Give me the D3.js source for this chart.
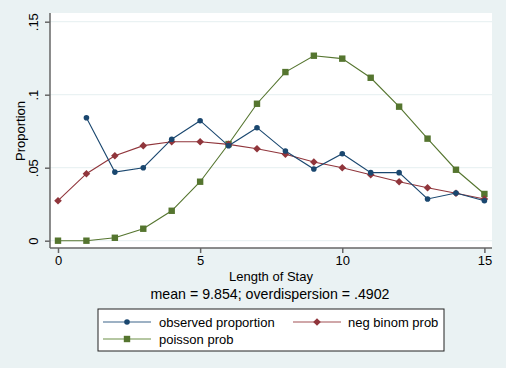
<!DOCTYPE html>
<html><head><meta charset="utf-8">
<script src="https://cdn.jsdelivr.net/npm/d3@7"></script>
<style>html,body{margin:0;padding:0;background:#EAF2F3;}svg{display:block;font-family:"Liberation Sans",Arial,sans-serif;}</style>
</head><body>
<svg id="c" width="506" height="368"></svg>
<script>
const obsX = [1,2,3,4,5,6,7,8,9,10,11,12,13,14,15];
const observed = [0.0842,0.047,0.050,0.0695,0.0822,0.065,0.0774,0.0614,0.0491,0.0596,0.0466,0.0466,0.0286,0.0327,0.0274];
const probX = [0,1,2,3,4,5,6,7,8,9,10,11,12,13,14,15];
const negBinom = [0.0274,0.0459,0.0582,0.0651,0.0678,0.0678,0.066,0.063,0.0592,0.0539,0.050,0.0452,0.0404,0.0363,0.0325,0.0286];
const poisson = [0,0,0.002,0.0082,0.0205,0.0404,0.0662,0.0938,0.1155,0.1267,0.1247,0.1116,0.0918,0.0699,0.0486,0.032];
const xTicks = [0,5,10,15];
const yTicks = [0,0.05,0.1,0.15];
const yTickLabels = ["0",".05",".1",".15"];
const xTitle = "Length of Stay";
const yTitle = "Proportion";
const note = "mean = 9.854; overdispersion = .4902";
const legendLabels = ["observed proportion","neg binom prob","poisson prob"];

const C = {blue:"#1a476f", red:"#90353b", green:"#55752f"};
const svg = d3.select("#c");
const x = d3.scaleLinear().domain([0,15]).range([58,484.4]);
const y = d3.scaleLinear().domain([0,0.15]).range([240.7,21.7]);

// plot region
svg.append("rect").attr("x",50).attr("y",13).attr("width",442).attr("height",235).attr("fill","#fff");
// gridlines
svg.append("g").selectAll("line").data(yTicks).join("line")
  .attr("x1",50).attr("x2",492).attr("y1",d=>y(d)).attr("y2",d=>y(d))
  .attr("stroke","#EAF2F3").attr("stroke-width",1.2);

// axes
const yAxis = svg.append("g").attr("transform","translate(50,0)")
  .call(d3.axisLeft(y).tickValues(yTicks).tickSize(5).tickPadding(9).tickFormat((d,i)=>yTickLabels[i]));
const xAxis = svg.append("g").attr("transform","translate(0,248)")
  .call(d3.axisBottom(x).tickValues(xTicks).tickSize(5).tickPadding(3).tickFormat(d3.format("d")));
[yAxis,xAxis].forEach(g=>{
  g.select(".domain").attr("stroke","#666").attr("stroke-width",1.5);
  g.selectAll(".tick line").attr("stroke","#666").attr("stroke-width",1.5);
  g.selectAll("text").attr("fill","#000").style("font-size","13px").style("font-family","'Liberation Sans',Arial,sans-serif");
});
yAxis.select(".domain").attr("d","M0,13V248");
xAxis.select(".domain").attr("d","M50,0H492");
yAxis.selectAll(".tick text").attr("text-anchor","middle")
  .attr("x",0).attr("y",0).attr("dy","0.35em")
  .attr("transform","translate(-17,0) rotate(-90)");

// titles
svg.append("text").attr("transform","translate(20,131) rotate(-90)").attr("text-anchor","middle")
  .attr("dy","0.35em").style("font-size","13px").text(yTitle);
svg.append("text").attr("x",271).attr("y",276).attr("text-anchor","middle").attr("dy","0.35em")
  .style("font-size","13px").text(xTitle);
svg.append("text").attr("x",270).attr("y",294).attr("text-anchor","middle").attr("dy","0.35em")
  .style("font-size","14.2px").text(note);

// series
const line = d3.line().x(d=>x(d[0])).y(d=>y(d[1]));
const obsData = obsX.map((v,i)=>[v,observed[i]]);
const nbData = probX.map((v,i)=>[v,negBinom[i]]);
const poData = probX.map((v,i)=>[v,poisson[i]]);

function drawSeries(data,color,shape){
  svg.append("path").datum(data).attr("d",line).attr("fill","none").attr("stroke",color).attr("stroke-width",1.1);
  const g=svg.append("g");
  data.forEach(d=>drawMarker(g,x(d[0]),y(d[1]),color,shape));
}
function drawMarker(g,cx,cy,color,shape){
  if(shape==="circle") g.append("circle").attr("cx",cx).attr("cy",cy).attr("r",2.8).attr("fill",color);
  else if(shape==="diamond") g.append("path").attr("d",`M${cx},${cy-3.8}L${cx+3.8},${cy}L${cx},${cy+3.8}L${cx-3.8},${cy}Z`).attr("fill",color);
  else g.append("rect").attr("x",cx-3.2).attr("y",cy-3.2).attr("width",6.4).attr("height",6.4).attr("fill",color);
}
drawSeries(poData,C.green,"square");
drawSeries(nbData,C.red,"diamond");
drawSeries(obsData,C.blue,"circle");

// legend
svg.append("rect").attr("x",98).attr("y",309).attr("width",346).attr("height",42)
  .attr("fill","#fff").attr("stroke","#222").attr("stroke-width",1);
const leg = [
  {lab:legendLabels[0],c:C.blue,lc:"#7c97b1",s:"circle",x1:103,x2:151,tx:159,yy:322},
  {lab:legendLabels[1],c:C.red,lc:"#c08a8d",s:"diamond",x1:293,x2:341,tx:348,yy:322},
  {lab:legendLabels[2],c:C.green,lc:"#9db483",s:"square",x1:103,x2:151,tx:159,yy:339}
];
leg.forEach(l=>{
  svg.append("line").attr("x1",l.x1).attr("x2",l.x2).attr("y1",l.yy).attr("y2",l.yy).attr("stroke",l.lc).attr("stroke-width",1.5);
  const g=svg.append("g");
  drawMarker(g,(l.x1+l.x2)/2,l.yy,l.c,l.s);
  svg.append("text").attr("x",l.tx).attr("y",l.yy).attr("dy","0.35em").style("font-size","13px").text(l.lab);
});
</script>
</body></html>
